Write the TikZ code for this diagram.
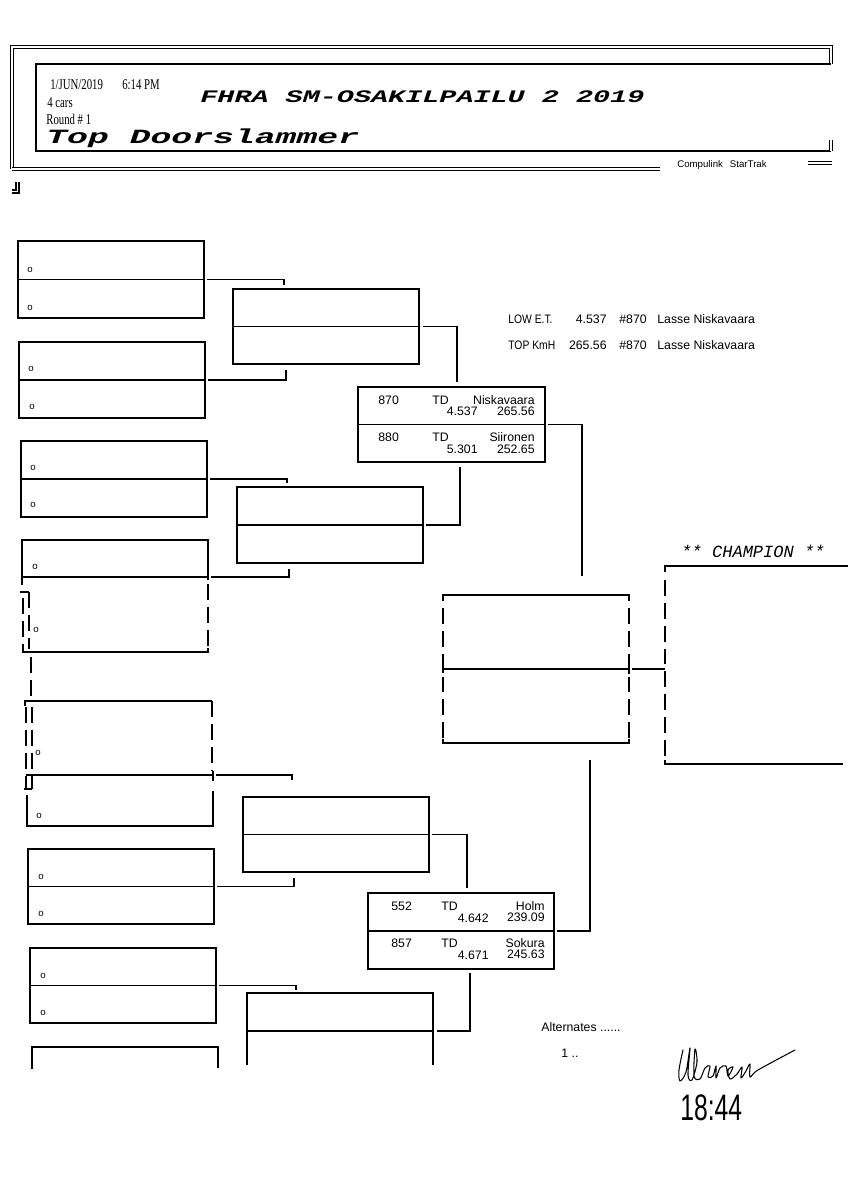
\documentclass[tikz,border=0pt]{standalone}
\usepackage{graphicx}
\usepackage{fontspec}
\setmainfont{Liberation Sans}
\newfontfamily\courfont{Liberation Mono}
\newfontfamily\datefont{Liberation Serif}
\usetikzlibrary{calc}
\tikzset{
  ln/.style={line width=0.75pt},
  boxnode/.style={inner sep=0pt, outer sep=0pt, anchor=north west, minimum width=186*0.02cm},
  framed/.style={boxnode, draw, line width=0.75pt},
  dashside/.style={line width=0.75pt, dash pattern=on 9pt off 4pt},
  brtext/.style={inner sep=0pt, font=\fontsize{7}{8}\selectfont},
  circ/.style={inner sep=0pt, font=\fontsize{5.5}{6}\selectfont},
  hdr/.style={line width=0.6pt},
  dbl/.style={double, line width=0.45pt, double distance=1.2pt},
  datetxt/.style={inner sep=0pt, anchor=base west},
  conn/.style={line width=0.75pt}
}
\begin{document}
\begin{tikzpicture}[x=0.02cm,y=-0.02cm]
\useasboundingbox (0,0) rectangle (848,1200);
\fill[white] (0,0) rectangle (848,1200);

% ---------------- header frame ----------------
\draw[dbl] (12,169) -- (12,47) -- (831,47) -- (831,64);
\draw[hdr] (831,64) -- (36,64) -- (36,151) -- (831,151);
\draw[dbl] (831,140) -- (831,151);
\draw[dbl] (12,169) -- (660,169);
\draw[dbl] (808,163) -- (832,163);
\node[inner sep=0pt, font=\fontsize{5.5}{6}\selectfont] (compu) at (722,165) {Compulink\hspace{4pt}StarTrak};
\draw[hdr] (12,193) -- (19,193) -- (19,182);
\draw[hdr] (12,190) -- (16,190) -- (16,182);

\node[datetxt] (date) at (50,89) {\datefont\fontsize{8.5}{9}\selectfont\scalebox{0.72}[1]{1/JUN/2019}};
\node[datetxt] (time) at (122,89) {\datefont\fontsize{8.5}{9}\selectfont\scalebox{0.72}[1]{6:14 PM}};
\node[datetxt] (cars) at (47,107) {\datefont\fontsize{8.5}{9}\selectfont\scalebox{0.72}[1]{4 cars}};
\node[datetxt] (round) at (46,124) {\datefont\fontsize{8.5}{9}\selectfont\scalebox{0.72}[1]{Round \# 1}};
\node[datetxt] (title) at (200,102) {\courfont\bfseries\itshape\fontsize{10}{11}\selectfont\scalebox{1.62}[1]{FHRA SM-OSAKILPAILU 2 2019}};
\node[datetxt] (class) at (46,143) {\courfont\bfseries\itshape\fontsize{11.5}{12}\selectfont\scalebox{1.72}[1]{Top Doorslammer}};

% ---------------- round 1 ----------------
\node[framed, minimum height=77*0.02cm] (b1) at (18,241) {};
\draw[ln] (b1.west) -- (b1.east);
\node[framed, minimum height=76*0.02cm] (b2) at (19,342) {};
\draw[ln] (b2.west) -- (b2.east);
\node[framed, minimum height=76*0.02cm] (b3) at (21,441) {};
\draw[ln] (b3.west) -- (b3.east);
\node[framed, minimum height=75*0.02cm] (b6) at (28,849) {};
\draw[ln] (b6.west) -- (b6.east);
\node[framed, minimum height=75*0.02cm] (b7) at (30,948) {};
\draw[ln] (b7.west) -- (b7.east);
\node[boxnode, minimum height=76*0.02cm] (b8) at (32,1047) {};
\draw[ln] ($(b8.north west)+(0,22)$) -- (b8.north west) -- (b8.north east) -- ($(b8.north east)+(0,21)$);

% box 4 (printer-garbled)
\node[boxnode, minimum height=112*0.02cm] (b4) at (22,540) {};
\draw[ln] ($(b4.north west)+(0,45)$) -- (b4.north west) -- (b4.north east) -- ($(b4.north east)+(0,40)$);
\draw[ln] ($(b4.north west)+(0,37)$) -- ($(b4.north east)+(0,37)$);
\draw[dashside] ($(b4.north east)+(0,44)$) -- (b4.south east);
\draw[ln] (b4.south west) -- (b4.south east) -- ($(b4.south east)+(0,-4)$);
\draw[ln] ($(b4.north west)+(-2,52)$) -- ($(b4.north west)+(7,52)$);
\draw[dashside] ($(b4.north west)+(7,52)$) -- ($(b4.north west)+(7,109)$);
\draw[dashside] ($(b4.north west)+(1,58)$) -- ($(b4.south west)+(1,0)$);

% box 5 (printer-garbled)
\node[boxnode, minimum height=125*0.02cm, minimum width=187*0.02cm] (b5) at (25,701) {};
\draw[dashside] ($(b4.south west)+(9,5)$) -- ($(b5.north west)+(6,-3)$);
\draw[ln] ($(b5.north west)+(0,5)$) -- (b5.north west) -- (b5.north east);
\draw[dashside] (b5.north east) -- ($(b5.north east)+(0,70)$);
\draw[ln] ($(b5.north west)+(1,74)$) -- ($(b5.north east)+(1,74)$);
\draw[ln] ($(b5.north east)+(1,70)$) -- ($(b5.north east)+(1,80)$);
\draw[dashside] ($(b5.north west)+(1,6)$) -- ($(b5.north west)+(1,89)$);
\draw[dashside] ($(b5.north west)+(7,6)$) -- ($(b5.north west)+(7,88)$);
\draw[ln] ($(b5.north west)+(-1,88)$) -- ($(b5.north west)+(7,88)$);
\draw[ln] ($(b5.north west)+(2,94)$) -- ($(b5.south west)+(2,0)$) -- ($(b5.south east)+(1,0)$) -- ($(b5.north east)+(1,90)$);

% entrant marks
\node[circ] (o1) at (30,270) {o};
\node[circ] (o2) at (30,308) {o};
\node[circ] (o3) at (31,369) {o};
\node[circ] (o4) at (32,407) {o};
\node[circ] (o5) at (33,468) {o};
\node[circ] (o6) at (33,505) {o};
\node[circ] (o7) at (35,567) {o};
\node[circ] (o8) at (36,630) {o};
\node[circ] (o9) at (38,753) {o};
\node[circ] (o10) at (39,816) {o};
\node[circ] (o11) at (41,877) {o};
\node[circ] (o12) at (41,914) {o};
\node[circ] (o13) at (43,976) {o};
\node[circ] (o14) at (43,1013) {o};

% ---------------- round 2 ----------------
\node[framed, minimum height=75*0.02cm] (bA) at (233,289) {};
\draw[ln] (bA.west) -- (bA.east);
\node[framed, minimum height=76*0.02cm] (bB) at (237,487) {};
\draw[ln] (bB.west) -- (bB.east);
\node[framed, minimum height=75*0.02cm] (bC) at (243,797) {};
\draw[ln] (bC.west) -- (bC.east);
\node[boxnode, minimum height=76*0.02cm] (bD) at (247,993) {};
\draw[ln] ($(bD.south west)+(0,-4)$) |- (bD.north east) -- ($(bD.south east)+(0,-4)$);
\draw[ln] (bD.west) -- (bD.east);

% connectors round 1 -> round 2
\draw[conn] ($(b1.east)+(3,0)$) -| ($(bA.north west)+(51,-4)$);
\draw[conn] ($(b2.east)+(3,0)$) -| ($(bA.south west)+(53,6)$);
\draw[conn] ($(b3.east)+(3,0)$) -| ($(bB.north west)+(50,-4)$);
\draw[conn] ($(b4.north east)+(3,37)$) -| ($(bB.south west)+(52,6)$);
\draw[conn] ($(b5.north east)+(4,74)$) -| ($(bC.north west)+(49,-17)$);
\draw[conn] ($(b6.east)+(3,0)$) -| ($(bC.south west)+(51,6)$);
\draw[conn] ($(b7.east)+(3,0)$) -| ($(bD.north west)+(49,-3)$);

% ---------------- round 3 ----------------
\node[framed, minimum height=75*0.02cm, minimum width=187*0.02cm] (r3a) at (358,387) {};
\draw[ln] (r3a.west) -- (r3a.east);
\node[framed, minimum height=76*0.02cm] (r3b) at (368,893) {};
\draw[ln] (r3b.west) -- (r3b.east);

\draw[conn] ($(bA.east)+(4,0)$) -| ($(r3a.north west)+(99,-5)$);
\draw[conn] ($(bB.east)+(3,0)$) -| ($(r3a.south west)+(102,5)$);
\draw[conn] ($(bC.east)+(3,0)$) -| ($(r3b.north west)+(99,-5)$);
\draw[conn] ($(bD.east)+(4,0)$) -| ($(r3b.south west)+(102,4)$);

% round 3 texts
\node[brtext, anchor=base west] (t870) at (378,404) {870};
\node[brtext, anchor=base west] (t870c) at (432,404) {TD};
\node[brtext, anchor=base east] (t870n) at (535,404) {Niskavaara};
\node[brtext, anchor=base east] (t870e) at (478,415) {4.537};
\node[brtext, anchor=base east] (t870s) at (535,415) {265.56};
\node[brtext, anchor=base west] (t880) at (378,441) {880};
\node[brtext, anchor=base west] (t880c) at (432,441) {TD};
\node[brtext, anchor=base east] (t880n) at (535,441) {Siironen};
\node[brtext, anchor=base east] (t880e) at (478,453) {5.301};
\node[brtext, anchor=base east] (t880s) at (535,453) {252.65};

\node[brtext, anchor=base west] (t552) at (391,910) {552};
\node[brtext, anchor=base west] (t552c) at (441,910) {TD};
\node[brtext, anchor=base east] (t552n) at (545,910) {Holm};
\node[brtext, anchor=base east] (t552e) at (489,922) {4.642};
\node[brtext, anchor=base east] (t552s) at (545,921) {239.09};
\node[brtext, anchor=base west] (t857) at (391,947) {857};
\node[brtext, anchor=base west] (t857c) at (441,947) {TD};
\node[brtext, anchor=base east] (t857n) at (545,947) {Sokura};
\node[brtext, anchor=base east] (t857e) at (489,959) {4.671};
\node[brtext, anchor=base east] (t857s) at (545,958) {245.63};

% ---------------- semifinal / final ----------------
\node[boxnode, minimum height=148*0.02cm] (semi) at (443,595) {};
\draw[ln] ($(semi.north west)+(0,6)$) -- (semi.north west) -- (semi.north east) -- ($(semi.north east)+(0,6)$);
\draw[dashside] ($(semi.north west)+(0,13)$) -- ($(semi.south west)+(0,-4)$);
\draw[dashside] ($(semi.north east)+(0,13)$) -- ($(semi.south east)+(0,-4)$);
\draw[ln] ($(semi.south west)+(0,-4)$) -- (semi.south west) -- (semi.south east) -- ($(semi.south east)+(0,-4)$);
\draw[ln] ($(semi.west)+(0,-4)$) -- ($(semi.west)+(0,4)$);
\draw[ln] (semi.west) -- (semi.east);
\draw[ln] ($(semi.east)+(0,-5)$) -- ($(semi.east)+(0,5)$);

\draw[conn] ($(r3a.east)+(3,0)$) -| ($(semi.north west)+(139,-19)$);
\draw[conn] ($(r3b.east)+(3,0)$) -| ($(semi.south west)+(147,17)$);

\node[boxnode, minimum height=198*0.02cm, minimum width=183*0.02cm] (champ) at (665,566) {};
\draw[ln] (champ.north east) -- (champ.north west) -- ($(champ.north west)+(0,6)$);
\draw[dashside] ($(champ.north west)+(0,14)$) -- ($(champ.south west)+(0,-4)$);
\draw[ln] ($(champ.south west)+(0,-4)$) -- (champ.south west) -- ($(champ.south east)+(-5,0)$);
\draw[conn] ($(semi.east)+(3,0)$) -- (champ.west |- semi.east);
\node[inner sep=0pt, anchor=base] (champt) at (753,557) {\courfont\itshape\fontsize{9.7}{10}\selectfont ** CHAMPION **};

% ---------------- records ----------------
\node[brtext, anchor=base west] (lowet) at (508,323) {\scalebox{0.84}[1]{LOW E.T.}};
\node[brtext, anchor=base east] (lowetv) at (607,323) {4.537};
\node[brtext, anchor=base west] (lowetn) at (619,323) {\#870};
\node[brtext, anchor=base west] (lowetd) at (657,323) {Lasse Niskavaara};
\node[brtext, anchor=base west] (topk) at (508,349) {\scalebox{0.84}[1]{TOP KmH}};
\node[brtext, anchor=base east] (topkv) at (607,349) {265.56};
\node[brtext, anchor=base west] (topkn) at (619,349) {\#870};
\node[brtext, anchor=base west] (topkd) at (657,349) {Lasse Niskavaara};

\node[brtext, anchor=base west] (alt) at (541,1031) {Alternates ......};
\node[brtext, anchor=base west] (alt1) at (561,1057) {1 ..};

% ---------------- handwriting ----------------
\draw[line width=0.6pt, line cap=round, line join=round] plot[smooth, tension=0.55] coordinates {(683,1050) (679,1070) (680,1081) (686,1072) (690,1048) (688,1075) (692,1080) (697,1062) (695,1049) (694,1076) (700,1079) (705,1068) (710,1066) (708,1077) (713,1076) (716,1066) (716,1078) (720,1068) (726,1066) (728,1076) (733,1067) (728,1070) (730,1079) (737,1074) (742,1067) (741,1078) (746,1071) (750,1064) (750,1077) (758,1070) (795,1050)};
\node[inner sep=0pt, anchor=base west] (hw) at (680,1120) {\fontsize{21}{22}\selectfont\scalebox{0.67}[1]{18:44}};
\end{tikzpicture}
\end{document}
